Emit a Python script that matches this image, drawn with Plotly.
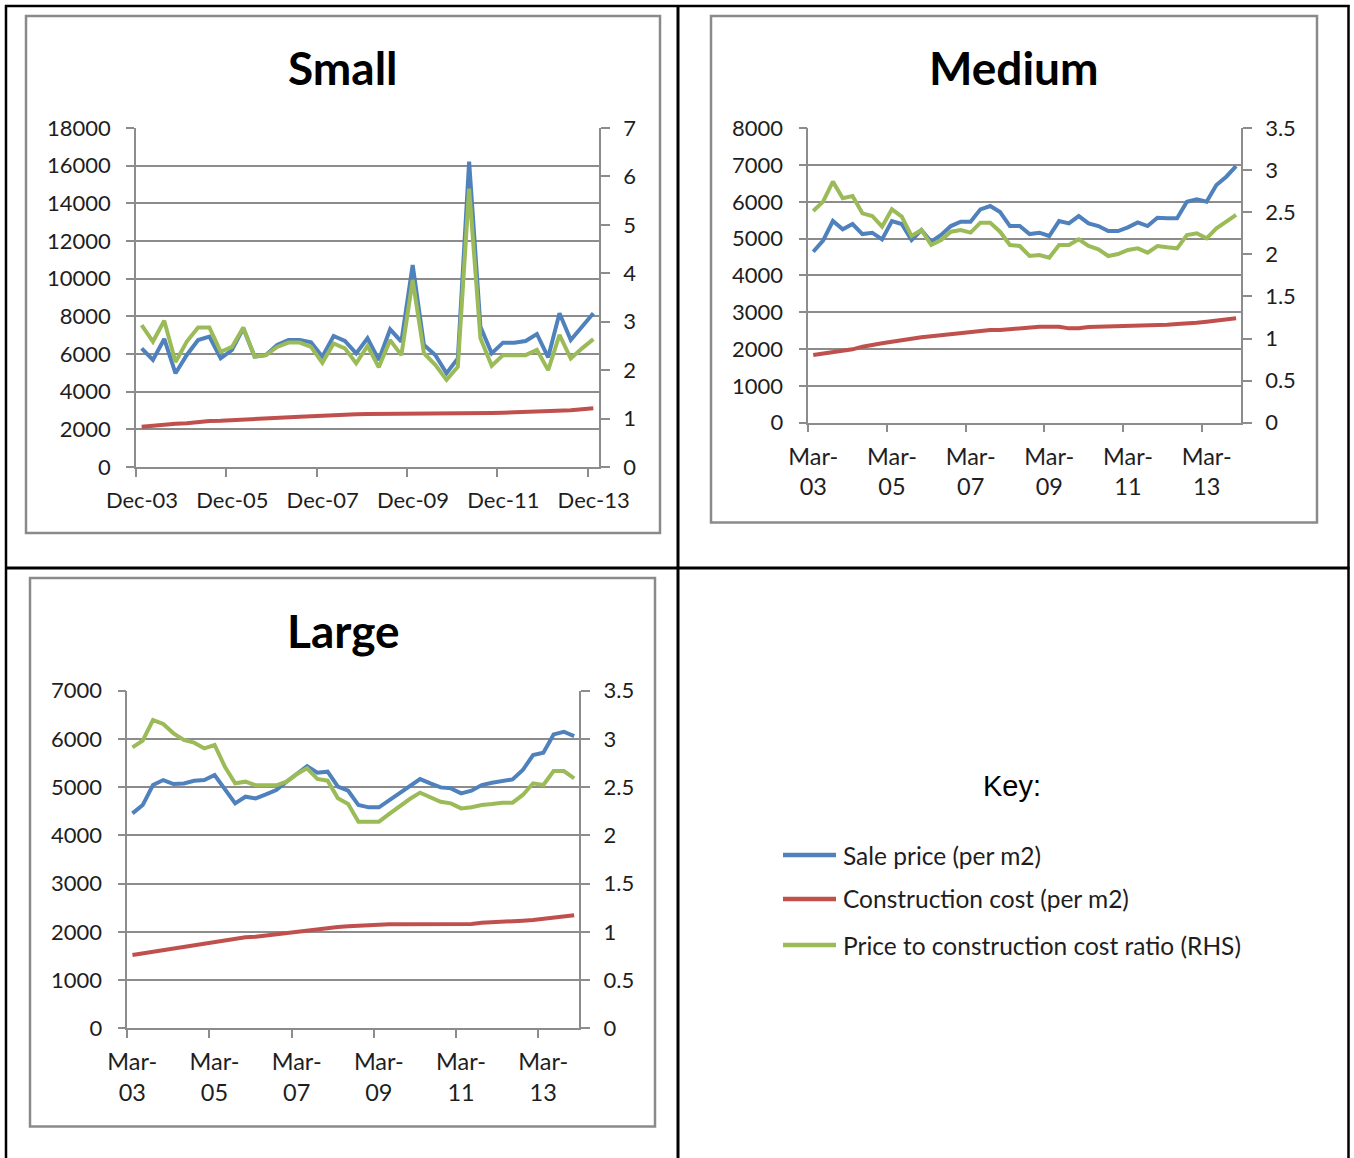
import plotly.graph_objects as go

W, H = 1354, 1158

# ---- Small dwellings: quarterly, Dec-03 .. Dec-13 ----
small_sale = [6303, 5682, 6797, 4975, 5947, 6744, 6921, 5770, 6213, 7363,
              5859, 5947, 6478, 6744, 6744, 6620, 5859, 6956, 6691, 6035,
              6832, 5682, 7310, 6655, 10726, 6478, 5947, 4975, 5770, 16212,
              7451, 6035, 6602, 6602, 6691, 7062, 5823, 8160, 6744, 7451, 8160]
small_cost = [2142, 2195, 2266, 2301, 2319, 2390, 2443, 2460, 2496, 2531,
              2566, 2584, 2620, 2637, 2673, 2690, 2726, 2761, 2779, 2797,
              2814, 2814, 2816, 2816, 2818, 2818, 2818, 2820, 2820, 2822,
              2850, 2867, 2885, 2903, 2920, 2938, 2938, 2956, 3009, 3062, 3115]
small_ratio = [2.93, 2.59, 3.02, 2.17, 2.59, 2.88, 2.88, 2.38, 2.48, 2.88,
               2.28, 2.31, 2.48, 2.57, 2.57, 2.48, 2.15, 2.55, 2.45, 2.14,
               2.50, 2.06, 2.62, 2.31, 3.86, 2.35, 2.11, 1.80, 2.07, 5.75,
               2.66, 2.09, 2.31, 2.31, 2.31, 2.42, 2.00, 2.73, 2.24, 2.45, 2.64]
small_xlabels = ["Dec-03", "Dec-05", "Dec-07", "Dec-09", "Dec-11", "Dec-13"]
small_left_ticks = [0, 2000, 4000, 6000, 8000, 10000, 12000, 14000, 16000, 18000]
small_right_ticks = [0, 1, 2, 3, 4, 5, 6, 7]

# ---- Medium dwellings: quarterly, Mar-03 .. Dec-13 ----
medium_sale = [4645, 4944, 5478, 5252, 5397, 5125, 5161, 4980, 5478, 5397,
               4962, 5234, 4917, 5098, 5342, 5460, 5460, 5795, 5886, 5723,
               5342, 5342, 5125, 5161, 5071, 5478, 5415, 5614, 5415, 5342,
               5207, 5207, 5306, 5442, 5342, 5569, 5551, 5551, 6003, 6067,
               6003, 6456, 6682, 6972]
medium_cost = [1839, 1875, 1911, 1947, 1993, 2065, 2101, 2156, 2201, 2246,
               2282, 2319, 2346, 2373, 2400, 2427, 2463, 2500, 2518, 2518,
               2545, 2581, 2608, 2608, 2608, 2608, 2563, 2563, 2599, 2608,
               2608, 2608, 2608, 2626, 2635, 2654, 2663, 2681, 2690, 2717,
               2744, 2780, 2808, 2835]
medium_ratio = [2.516, 2.627, 2.865, 2.667, 2.694, 2.488, 2.457, 2.330, 2.536, 2.449,
                2.219, 2.290, 2.112, 2.171, 2.270, 2.290, 2.259, 2.377, 2.377, 2.270,
                2.112, 2.100, 1.981, 1.993, 1.961, 2.112, 2.112, 2.179, 2.100, 2.060,
                1.981, 2.005, 2.053, 2.072, 2.021, 2.100, 2.084, 2.072, 2.231, 2.251,
                2.191, 2.310, 2.389, 2.469]
medium_left_ticks = [0, 1000, 2000, 3000, 4000, 5000, 6000, 7000, 8000]
medium_right_ticks = [0, 0.5, 1, 1.5, 2, 2.5, 3, 3.5]

# ---- Large dwellings: quarterly, Mar-03 .. Dec-13 ----
large_sale = [4456, 4629, 5044, 5147, 5064, 5078, 5133, 5147, 5251, 4954,
              4664, 4802, 4767, 4850, 4940, 5113, 5285, 5437, 5299, 5320,
              5009, 4926, 4629, 4581, 4581, 4733, 4885, 5023, 5168, 5078,
              4995, 4975, 4871, 4926, 5044, 5092, 5127, 5161, 5355, 5666,
              5714, 6094, 6149, 6059]
large_cost = [1520, 1554, 1589, 1623, 1658, 1692, 1727, 1761, 1789, 1817,
              1858, 1886, 1900, 1927, 1948, 1969, 1996, 2024, 2052, 2079,
              2100, 2114, 2128, 2141, 2148, 2155, 2155, 2155, 2155, 2155,
              2155, 2155, 2155, 2162, 2190, 2197, 2197, 2210, 2231, 2245,
              2266, 2287, 2314, 2342]
large_ratio = [2.913, 2.982, 3.196, 3.155, 3.058, 2.989, 2.961, 2.902, 2.937, 2.712,
               2.540, 2.557, 2.519, 2.515, 2.519, 2.557, 2.636, 2.695, 2.585, 2.567,
               2.384, 2.325, 2.142, 2.142, 2.142, 2.222, 2.305, 2.377, 2.443, 2.391,
               2.349, 2.332, 2.280, 2.291, 2.315, 2.325, 2.339, 2.339, 2.419, 2.540,
               2.522, 2.667, 2.667, 2.591]
large_left_ticks = [0, 1000, 2000, 3000, 4000, 5000, 6000, 7000]
large_right_ticks = [0, 0.5, 1, 1.5, 2, 2.5, 3, 3.5]

mar_labels = ["Mar-<br>03", "Mar-<br>05", "Mar-<br>07", "Mar-<br>09", "Mar-<br>11", "Mar-<br>13"]

series_names = ["Sale price (per m2)", "Construction cost (per m2)",
                "Price to construction cost ratio (RHS)"]

BLUE, RED, GREEN = "#4F81BD", "#C0504D", "#9BBB59"
GRID = "#8c8c8c"
TXT = "#1e1e1e"
FONT = "Lato"
TICK_SIZE = 22


def fx(px):
    return px / W


def fy(py):
    return 1 - py / H


def fmt(v):
    return ("%g" % v)


# panel geometry in pixels: plot-area left, right, top, bottom
panels = [
    dict(title="Small", sale=small_sale, cost=small_cost, ratio=small_ratio,
         xlabels=small_xlabels, lt=small_left_ticks, rt=small_right_ticks,
         box=(136, 599, 128, 467), frame=(26, 16, 660, 533), tcx=343, tcy=68,
         xfont=22, xstand=5),
    dict(title="Medium", sale=medium_sale, cost=medium_cost, ratio=medium_ratio,
         xlabels=mar_labels, lt=medium_left_ticks, rt=medium_right_ticks,
         box=(808.3, 1241, 128.2, 422.7), frame=(711, 16, 1317, 522.5), tcx=1014, tcy=68,
         xfont=23.5, xstand=4),
    dict(title="Large", sale=large_sale, cost=large_cost, ratio=large_ratio,
         xlabels=mar_labels, lt=large_left_ticks, rt=large_right_ticks,
         box=(127.3, 579.3, 690.7, 1028.3), frame=(30, 578, 655, 1126.5), tcx=343, tcy=630,
         xfont=23.5, xstand=4),
]

fig = go.Figure()
layout = {}
shapes = []
annotations = []

for k, p in enumerate(panels):
    n = len(p["sale"])
    xs = list(range(n))
    xa = "x" if k == 0 else "x%d" % (k + 1)
    yl = "y" if k == 0 else "y%d" % (2 * k + 1)
    yr = "y%d" % (2 * k + 2)
    xkey = "xaxis" if k == 0 else "xaxis%d" % (k + 1)
    ylkey = "yaxis" if k == 0 else "yaxis%d" % (2 * k + 1)
    yrkey = "yaxis%d" % (2 * k + 2)

    fig.add_trace(go.Scatter(x=xs, y=p["sale"], xaxis=xa, yaxis=yl, mode="lines",
                             name=series_names[0], line=dict(color=BLUE, width=4),
                             showlegend=False))
    fig.add_trace(go.Scatter(x=xs, y=p["cost"], xaxis=xa, yaxis=yl, mode="lines",
                             name=series_names[1], line=dict(color=RED, width=4),
                             showlegend=False))
    fig.add_trace(go.Scatter(x=xs, y=p["ratio"], xaxis=xa, yaxis=yr, mode="lines",
                             name=series_names[2], line=dict(color=GREEN, width=4),
                             showlegend=False))

    l, r, t, b = p["box"]
    cat_w = (r - l) / n
    tick_pos = [i - 0.5 for i in range(0, n, 8)][:len(p["xlabels"])]

    layout[xkey] = dict(
        domain=[fx(l), fx(r)], anchor=yl, range=[-0.5, n - 0.5],
        tickvals=tick_pos, ticktext=p["xlabels"],
        ticks="outside", ticklen=8, tickwidth=1.5, tickcolor=GRID,
        ticklabelshift=int(round(cat_w / 2)), ticklabelstandoff=p["xstand"],
        showline=True, linecolor=GRID, linewidth=1.5,
        showgrid=False, zeroline=False, automargin=False,
        tickfont=dict(family=FONT, size=p["xfont"], color=TXT),
        fixedrange=True,
    )
    lt = p["lt"]
    layout[ylkey] = dict(
        domain=[fy(b), fy(t)], anchor=xa, range=[lt[0], lt[-1]],
        tickvals=lt, ticktext=[fmt(v) for v in lt],
        ticks="outside", ticklen=8, tickwidth=1.5, tickcolor=GRID,
        showline=True, linecolor=GRID, linewidth=1.5,
        showgrid=True, gridcolor=GRID, gridwidth=1.5, zeroline=False, automargin=False,
        tickfont=dict(family=FONT, size=TICK_SIZE, color=TXT),
        ticklabelstandoff=11,
        fixedrange=True,
    )
    rt = p["rt"]
    layout[yrkey] = dict(
        overlaying=yl, side="right", anchor=xa, range=[rt[0], rt[-1]],
        tickvals=rt, ticktext=[fmt(v) for v in rt],
        ticks="outside", ticklen=9, tickwidth=1.5, tickcolor=GRID,
        showline=True, linecolor=GRID, linewidth=1.5,
        showgrid=False, zeroline=False, automargin=False,
        tickfont=dict(family=FONT, size=TICK_SIZE, color=TXT),
        ticklabelstandoff=9,
        fixedrange=True,
    )

    # chart frame
    x0, y0, x1, y1 = p["frame"]
    shapes.append(dict(type="rect", xref="paper", yref="paper",
                       x0=fx(x0), x1=fx(x1), y0=fy(y1), y1=fy(y0),
                       line=dict(color="#8a8a8a", width=2.5), fillcolor="rgba(0,0,0,0)"))
    # chart title
    annotations.append(dict(text="<b>%s</b>" % p["title"], xref="paper", yref="paper",
                            x=fx(p["tcx"]), y=fy(p["tcy"]), xanchor="center", yanchor="middle",
                            showarrow=False, font=dict(family=FONT, size=46, color="#000000")))

# table grid lines
def hline(y, xa_, xb_, w):
    shapes.append(dict(type="line", xref="paper", yref="paper",
                       x0=fx(xa_), x1=fx(xb_), y0=fy(y), y1=fy(y),
                       line=dict(color="#000000", width=w)))


def vline(x, ya_, yb_, w):
    shapes.append(dict(type="line", xref="paper", yref="paper",
                       x0=fx(x), x1=fx(x), y0=fy(ya_), y1=fy(yb_),
                       line=dict(color="#000000", width=w)))


hline(6, 5, 1349.5, 2.5)
hline(568, 5, 1349.5, 3)
vline(6, 5, 1158, 2.5)
vline(678, 5, 1158, 3)
vline(1348.5, 5, 1158, 2.5)

# key panel
annotations.append(dict(text="Key:", xref="paper", yref="paper", x=fx(1012), y=fy(786),
                        xanchor="center", yanchor="middle", showarrow=False,
                        font=dict(family="Liberation Sans", size=29, color="#000000")))
key_rows = [(855, BLUE), (899, RED), (945, GREEN)]
for (ky, col), name in zip(key_rows, series_names):
    shapes.append(dict(type="line", xref="paper", yref="paper",
                       x0=fx(783), x1=fx(836), y0=fy(ky), y1=fy(ky),
                       line=dict(color=col, width=4.5)))
    annotations.append(dict(text=name, xref="paper", yref="paper", x=fx(841), y=fy(ky),
                            xanchor="left", yanchor="middle", showarrow=False,
                            font=dict(family=FONT, size=24.5, color=TXT)))

fig.update_layout(
    template="none",
    width=W, height=H, autosize=False,
    margin=dict(l=0, r=0, t=0, b=0, pad=0, autoexpand=False),
    paper_bgcolor="#ffffff", plot_bgcolor="#ffffff",
    showlegend=False, shapes=shapes, annotations=annotations,
    **layout,
)

fig.write_html("out.html", config={"displayModeBar": False})
